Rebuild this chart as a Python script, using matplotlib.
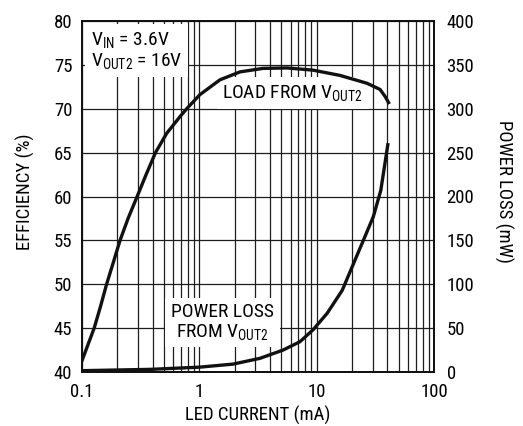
import matplotlib
matplotlib.use("Agg")
import matplotlib.pyplot as plt
from matplotlib import font_manager
from matplotlib.ticker import FixedLocator, LogLocator, NullFormatter

# Efficiency (%) vs LED current (mA)
eff_x = [0.1, 0.127, 0.144, 0.162, 0.185, 0.211, 0.247, 0.295, 0.352, 0.423, 0.527,
         0.684, 0.78, 1.01, 1.5, 2.22, 3.49, 5.6, 9.3, 15.8, 26.9, 34.7, 38.3, 41.0]
eff_y = [41.3, 45.0, 47.5, 50.0, 52.5, 55.0, 57.5, 60.0, 62.5, 65.0, 67.2,
         69.1, 70.0, 71.6, 73.3, 74.2, 74.6, 74.65, 74.4, 73.8, 72.9, 72.2, 71.4, 70.7]

# Power loss (mW) vs LED current (mA)
loss_x = [0.1, 0.38, 1.0, 1.94, 3.29, 5.17, 7.2, 9.3, 12.3, 16.5, 25.0, 30.4, 35.2, 40.4]
loss_y = [1.5, 3.0, 5.5, 9.0, 15.6, 25.0, 34.5, 48.0, 67.0, 93.0, 150.0, 177.0, 207.0, 259.0]

x_ticks = [0.1, 1, 10, 100]
x_tick_labels = ['0.1', '1', '10', '100']
left_ticks = [40, 45, 50, 55, 60, 65, 70, 75, 80]
right_ticks = [0, 50, 100, 150, 200, 250, 300, 350, 400]

names = {f.name for f in font_manager.fontManager.ttflist}
main_font = 'Liberation Sans'
narrow = False
for cand in ['Liberation Sans Narrow', 'Roboto Condensed', 'Arial Narrow',
             'Open Sans Condensed', 'Nimbus Sans Narrow']:
    if cand in names:
        main_font = cand
        narrow = True
        break

plt.rcParams['font.family'] = [main_font, 'DejaVu Sans']
plt.rcParams['mathtext.fontset'] = 'custom'
plt.rcParams['mathtext.rm'] = main_font
plt.rcParams['mathtext.it'] = main_font

if narrow:
    fs_tick, fs_lab, fs_ann = 13.5, 13.5, 14
else:
    fs_tick, fs_lab, fs_ann = 12.5, 12, 12.5

fig = plt.figure(figsize=(5.23, 4.26), dpi=100)
ax = fig.add_axes([82/523, 1-372/426, 352/523, 351/426])
ax2 = ax.twinx()

ax.set_xscale('log')
ax.set_xlim(0.1, 100)
ax.set_ylim(40, 80)
ax2.set_ylim(0, 400)

ax.xaxis.set_major_locator(FixedLocator(x_ticks))
ax.set_xticklabels(x_tick_labels)
ax.xaxis.set_minor_locator(LogLocator(base=10, subs=range(2, 10)))
ax.xaxis.set_minor_formatter(NullFormatter())
ax.set_yticks(left_ticks)
ax2.set_yticks(right_ticks)

gcol = '#1e1e1e'
ax.grid(True, which='both', axis='x', color=gcol, lw=0.9, zorder=1)
ax.grid(True, which='major', axis='y', color=gcol, lw=0.9, zorder=1)
ax.set_axisbelow(True)

ax.tick_params(axis='both', which='both', length=0, labelsize=fs_tick)
ax.tick_params(axis='x', pad=8)
ax.tick_params(axis='y', pad=7)
ax2.tick_params(axis='y', length=0, labelsize=fs_tick, pad=9)

for a in (ax, ax2):
    for s in a.spines.values():
        s.set_linewidth(1.3)
        s.set_color('#111111')

ax.plot(eff_x, eff_y, color='#111111', lw=2.4, zorder=5, solid_joinstyle='round')
ax2.plot(loss_x, loss_y, color='#111111', lw=2.4, zorder=5, solid_joinstyle='round')

box = dict(facecolor='white', edgecolor='none', boxstyle='square,pad=0.3')
ax.text(0.026, 0.975, 'V$_{\\mathrm{IN}}$ = 3.6V\nV$_{\\mathrm{OUT2}}$ = 16V',
        transform=ax.transAxes, ha='left', va='top', fontsize=fs_ann,
        linespacing=1.1, bbox=box, zorder=3)
ax.text(0.599, 0.795, 'LOAD FROM V$_{\\mathrm{OUT2}}$', transform=ax.transAxes,
        ha='center', va='center', fontsize=fs_ann, bbox=box, zorder=3)
ax.text(0.399, 0.142, 'POWER LOSS\nFROM V$_{\\mathrm{OUT2}}$', transform=ax.transAxes,
        ha='center', va='center', fontsize=fs_ann, linespacing=1.05,
        multialignment='center', bbox=box, zorder=3)

fig.text(25/523, 1-192/426, 'EFFICIENCY (%)', rotation=90, ha='center', va='center', fontsize=fs_lab)
fig.text(504/523, 1-191/426, 'POWER LOSS (mW)', rotation=-90, ha='center', va='center', fontsize=fs_lab)
fig.text(258/523, 1-421/426, 'LED CURRENT (mA)', ha='center', va='baseline', fontsize=fs_lab)

fig.savefig('out.png', dpi=100)
